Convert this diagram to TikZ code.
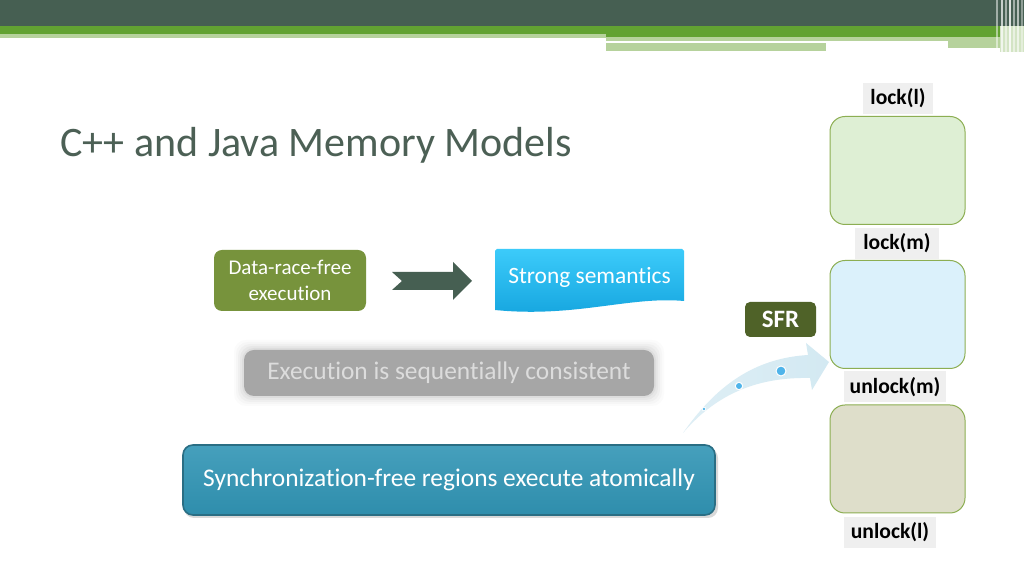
\documentclass[tikz,border=0pt]{standalone}
\usepackage{fontspec}
\setmainfont{Carlito}[Ligatures=NoCommon]
\usetikzlibrary{shapes.misc}
\definecolor{dkgreen}{HTML}{465F52}
\definecolor{brgreen}{HTML}{62A232}
\definecolor{ltgreen}{HTML}{B6D29C}
\definecolor{titlec}{HTML}{4C6055}
\definecolor{olive}{HTML}{77933C}
\definecolor{sfrc}{HTML}{4F6228}
\definecolor{tealc}{HTML}{3195B5}
\definecolor{tealdk}{HTML}{2A6E84}
\definecolor{grayc}{HTML}{A6A6A6}
\definecolor{graytxt}{HTML}{DCDCDC}
\definecolor{skytop}{HTML}{3CCBFA}
\definecolor{skybot}{HTML}{14A4DE}
\definecolor{labbg}{HTML}{EFEFEF}
\definecolor{boxg}{HTML}{DEEFD4}
\definecolor{boxb}{HTML}{DBF1FB}
\definecolor{boxt}{HTML}{DEDECA}
\definecolor{boxline}{HTML}{8CAE52}
\definecolor{arrowc}{HTML}{D3E9F2}
\definecolor{dotc}{HTML}{4FB4EA}
\begin{document}
\begin{tikzpicture}[x=0.5pt,y=-0.5pt,
  lab/.style={fill=labbg,font=\fontsize{10.8}{12}\selectfont\bfseries,inner sep=0pt,minimum height=15.5pt,text=black},
  region/.style={draw=boxline,line width=0.5pt,rounded corners=7.5pt,minimum width=67.5pt,minimum height=54pt},
  wtext/.style={text=white,align=center}]
\useasboundingbox (0,0) rectangle (1024,576);
\fill[white] (0,0) rectangle (1024,576);
% top bars
\fill[dkgreen] (0,0) rectangle (1024,26);
\fill[brgreen] (0,26) rectangle (606,34);
\fill[ltgreen] (0,34) rectangle (606,38);
\fill[brgreen] (606,26) rectangle (1000,37);
\fill[ltgreen] (606,37) rectangle (1000,41);
\fill[ltgreen] (606,43) rectangle (826,51);
\fill[ltgreen] (948,41) rectangle (1000,48);
\fill[ltgreen!60] (1000,26) rectangle (1024,52);
\foreach \x/\o in {996/0.5,1001/0.7,1005/0.5,1009/0.8,1013/0.5,1017/0.6,1021/0.4}
  \fill[white,opacity=\o] (\x,0) rectangle (\x+1.5,52);
% title
\node[anchor=base west,text=titlec,font=\fontsize{21}{24}\selectfont,inner sep=0pt] (title) at (60,157) {C++ and Java Memory Models};
% data race free
\node[fill=olive,rounded corners=4pt,minimum width=76pt,minimum height=30.5pt,wtext,font=\fontsize{10.5}{13}\selectfont] (drf) at (290,280.5) {Data-race-free\\execution};
% notched arrow
\fill[dkgreen] (392,272) -- (453,272) -- (453,262) -- (472,281) -- (453,300) -- (453,290) -- (392,290) -- (402,281) -- cycle;
\coordinate (arr) at (432,281);
% strong semantics
\shade[top color=skytop,bottom color=skybot] (497,249) -- (682,249) -- (684,251) -- (684,301)
  .. controls (630,296) and (575,318) .. (495,310) -- (495,251) -- cycle;
\node[wtext,font=\fontsize{11.7}{13}\selectfont] (strong) at (589.5,277) {Strong semantics};
% gray glow box
\foreach \d/\o in {10/0.04,8/0.06,6/0.08,4/0.1,2/0.14}
  \fill[grayc,opacity=\o,rounded corners=6pt] (244-\d,350-\d) rectangle (654+\d,396+\d);
\node[fill=grayc,rounded corners=5pt,minimum width=205pt,minimum height=23pt,text=graytxt,font=\fontsize{12.7}{14}\selectfont] (seq) at (449,373) {\raisebox{-1.3pt}{Execution is sequentially consistent}};
% teal box
\fill[black,opacity=0.15,rounded corners=5pt] (184,448) rectangle (718,518);
\node[draw=tealdk,line width=0.8pt,top color=tealc!90!white,bottom color=tealc!95!black,rounded corners=5pt,minimum width=266pt,minimum height=35pt,text=white,font=\fontsize{12.7}{14}\selectfont] (sfree) at (449,480) {\raisebox{-1.3pt}{Synchronization-free regions execute atomically}};
% SFR
\node[fill=sfrc,rounded corners=2.5pt,minimum width=35.5pt,minimum height=17.5pt,text=white,font=\fontsize{12.5}{14}\selectfont\bfseries] (sfr) at (780.5,319.5) {SFR};
% curved arrow
\shade[left color=arrowc!75!white,right color=arrowc] (683,433) .. controls (720,380) and (760,358) .. (808,355)
  -- (806,343) -- (829,362) -- (812,390) -- (810,378)
  .. controls (760,377) and (718,392) .. (683,433) -- cycle;
\fill[white] (704,409) circle (2.2);
\fill[dotc] (704,409) circle (1.3);
\fill[white] (739,386) circle (4.2);
\fill[dotc] (739,386) circle (3);
\fill[white] (781,371) circle (5.5);
\fill[dotc] (781,371) circle (4.3);
% right column
\node[lab,minimum width=35pt] (l1) at (898,98.5) {lock(l)};
\node[region,fill=boxg] (r1) at (897.5,170.5) {};
\node[lab,minimum width=42pt] (l2) at (897,243.5) {lock(m)};
\node[region,fill=boxb] (r2) at (897.5,314.5) {};
\node[lab,minimum width=51pt] (l3) at (895,387) {unlock(m)};
\node[lab,minimum width=46pt] (l4) at (890,532.5) {unlock(l)};
\node[region,fill=boxt] (r3) at (897.5,459) {};
\end{tikzpicture}
\end{document}
